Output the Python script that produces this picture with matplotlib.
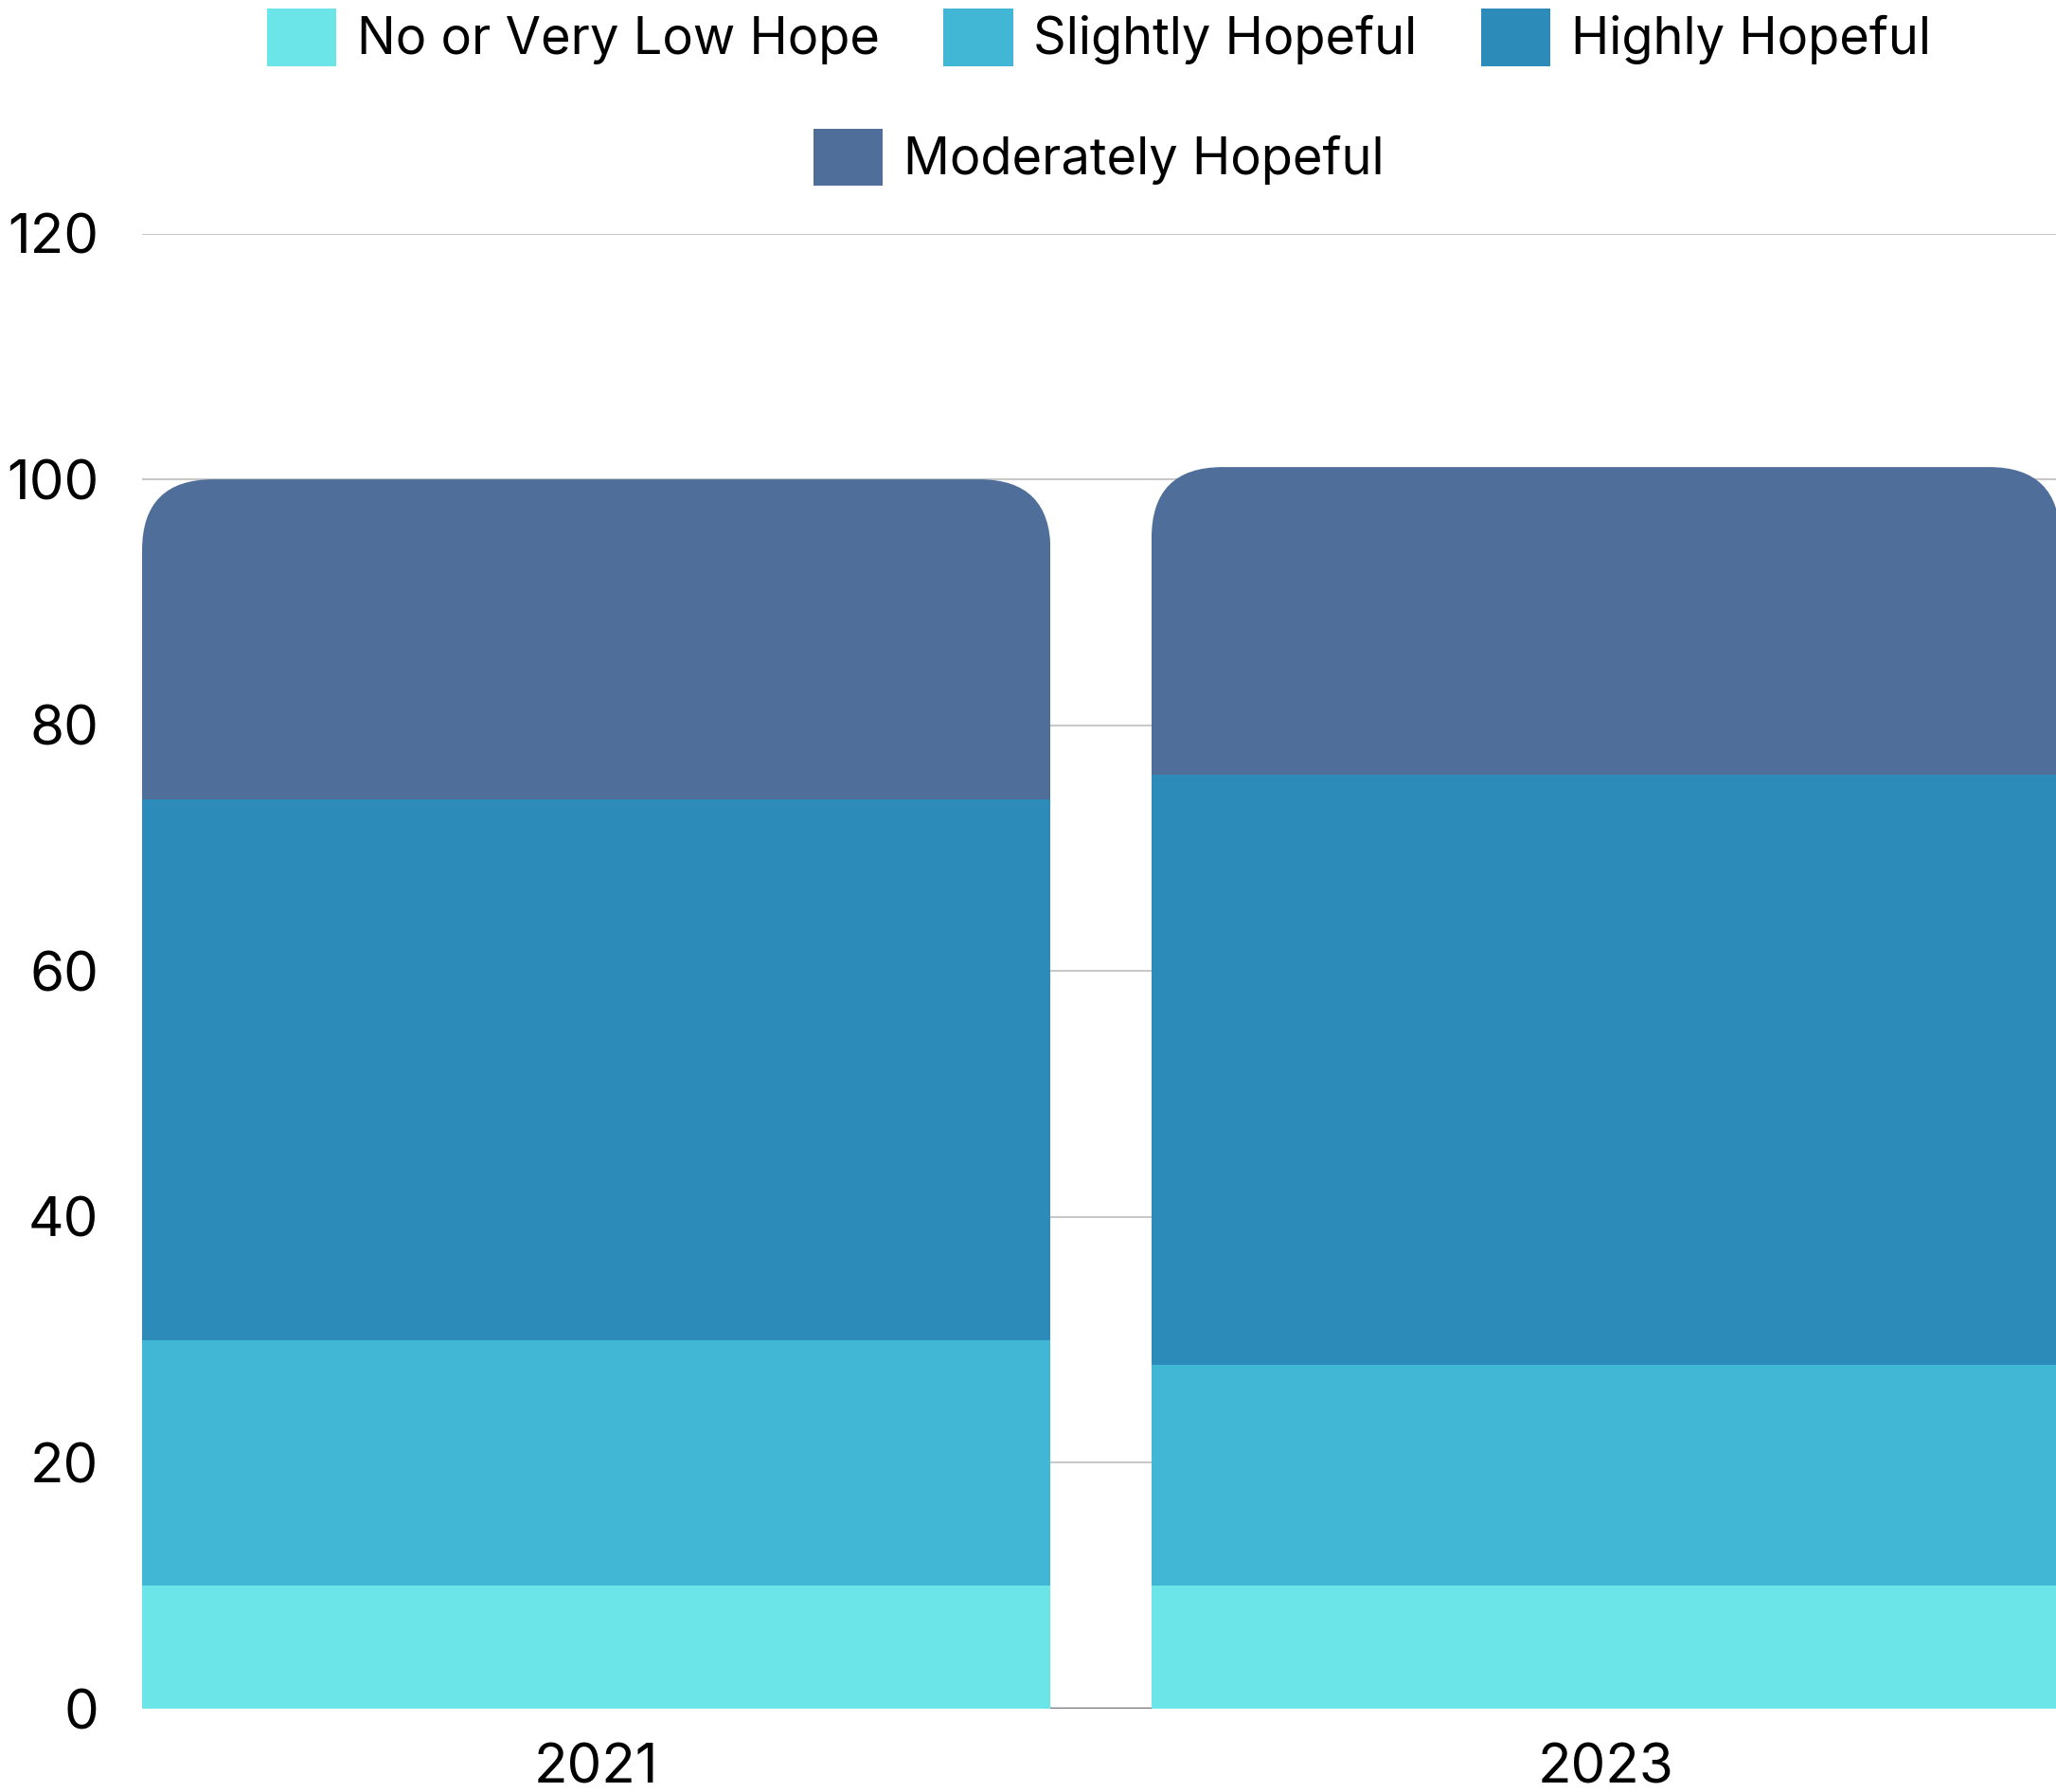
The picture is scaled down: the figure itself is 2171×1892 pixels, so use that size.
import numpy as np
import matplotlib.pyplot as plt
from matplotlib.patches import FancyBboxPatch, Patch

plt.rcParams['font.family'] = ['Inter', 'DejaVu Sans']

years = ['2021', '2023']
categories = ['No or Very Low Hope', 'Slightly Hopeful', 'Highly Hopeful', 'Moderately Hopeful']
no_hope = [10, 10]
slightly = [20, 18]
highly = [44, 48]
moderately = [26, 25]
colors = ['#6CE5E8', '#41B7D5', '#2D8BBA', '#4F6E99']

series = [no_hope, slightly, highly, moderately]

fig = plt.figure(figsize=(21.71, 18.92), dpi=100)
ax = fig.add_axes([0.0691, 0.0465, 0.9309, 0.8232])

x = np.arange(len(years))
width = 0.9
totals = np.sum(series, axis=0)

# rounded top corners: clip every bar with a round box per column
r_x = 0.0704
aspect = (120 / 1557.5) / (1 / 1066)
clips = []
for i in range(len(years)):
    clip = FancyBboxPatch((x[i] - width / 2, -20), width, totals[i] + 20,
                          boxstyle=f'round,pad=0,rounding_size={r_x}',
                          mutation_aspect=aspect, transform=ax.transData)
    clips.append(clip)

bottom = np.zeros(len(years))
for vals, col, lab in zip(series, colors, categories):
    bars = ax.bar(x, vals, width, bottom=bottom, color=col, label=lab,
                  linewidth=0, zorder=3)
    for b, c in zip(bars, clips):
        b.set_clip_path(c)
    bottom += np.array(vals)

ax.set_xlim(-0.45, 1.446)
ax.set_ylim(0, 120)
ax.set_yticks(np.arange(0, 121, 20))
ax.set_xticks(x)
ax.set_xticklabels(years)
ax.set_axisbelow(True)
ax.yaxis.grid(True, color='#c8c8c8', linewidth=1.5)
ax.axhline(0, color='#777777', linewidth=2.5, zorder=2)
for s in ax.spines.values():
    s.set_visible(False)
ax.tick_params(axis='y', length=0, pad=33, labelsize=42)
ax.tick_params(axis='x', length=0, pad=26, labelsize=42)

handles = [Patch(facecolor=c, edgecolor='none') for c in colors]
leg_kw = dict(frameon=False, fontsize=39, handlelength=1.35, handleheight=1.35,
              handletextpad=0.4, borderaxespad=0, borderpad=0)
leg1 = ax.legend(handles[:3], categories[:3], ncol=3, loc='center',
                 bbox_to_anchor=(0.5, 1.133), columnspacing=1.25, **leg_kw)
ax.add_artist(leg1)
ax.legend(handles[3:], categories[3:], loc='center',
          bbox_to_anchor=(0.5, 1.0517), **leg_kw)

fig.savefig('out.png', dpi=100)
